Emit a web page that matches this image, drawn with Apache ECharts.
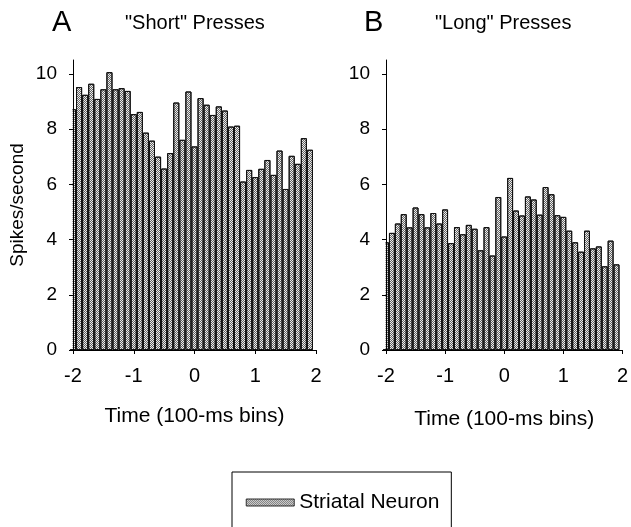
<!DOCTYPE html>
<html>
<head>
<meta charset="utf-8">
<script src="https://cdn.jsdelivr.net/npm/echarts@6/dist/echarts.min.js"></script>
<style>
  html, body { margin: 0; padding: 0; background: #fff; }
  #chart { width: 631px; height: 527px; }
</style>
</head>
<body>
<div id="chart"></div>
<script>
// bin centres in units of 100 ms
const binCenters = [
  -2.0, -1.9, -1.8, -1.7, -1.6, -1.5, -1.4, -1.3, -1.2, -1.1,
  -1.0, -0.9, -0.8, -0.7, -0.6, -0.5, -0.4, -0.3, -0.2, -0.1,
  0.0, 0.1, 0.2, 0.3, 0.4, 0.5, 0.6, 0.7, 0.8, 0.9,
  1.0, 1.1, 1.2, 1.3, 1.4, 1.5, 1.6, 1.7, 1.8, 1.9
];

// spikes/second, "Short" presses (panel A)
const shortPresses = [
  8.72, 9.52, 9.24, 9.64, 9.09, 9.44, 10.06, 9.44, 9.48, 9.38,
  8.54, 8.62, 7.87, 7.58, 7.00, 6.57, 7.13, 8.96, 7.61, 9.36,
  7.37, 9.12, 8.88, 8.51, 8.82, 8.67, 8.09, 8.12, 6.10, 6.52,
  6.26, 6.56, 6.88, 6.34, 7.22, 5.83, 7.03, 6.74, 7.67, 7.25
];

// spikes/second, "Long" presses (panel B)
const longPresses = [
  3.90, 4.24, 4.58, 4.92, 4.44, 5.16, 4.92, 4.44, 4.96, 4.58,
  5.09, 3.87, 4.45, 4.19, 4.53, 4.39, 3.61, 4.45, 3.42, 5.54,
  4.11, 6.23, 5.05, 4.87, 5.56, 5.45, 4.90, 5.90, 5.64, 4.88,
  4.82, 4.32, 3.90, 3.56, 4.32, 3.68, 3.75, 3.03, 3.96, 3.10
];

const yTickValues = [0, 2, 4, 6, 8, 10];
const seriesName = 'Striatal Neuron';

const FONT = '"Liberation Sans", Arial, Helvetica, sans-serif';

const barDecal = {
  symbol: 'rect',
  symbolSize: 1,
  color: 'rgba(40,40,40,0.7)',
  dashArrayX: [[1, 1], [0, 1, 1, 0]],
  dashArrayY: [1, 0]
};

const barItemStyle = {
  color: '#ececec',
  borderColor: '#111',
  borderWidth: 1,
  decal: barDecal
};

const xAxisBase = (gridIndex, nameGap) => ({
  type: 'value',
  gridIndex: gridIndex,
  z: 10,
  min: -2,
  max: 2,
  interval: 1,
  name: 'Time (100-ms bins)',
  nameLocation: 'middle',
  nameGap: nameGap,
  nameTextStyle: { fontFamily: FONT, fontSize: 21, color: '#000' },
  axisLine: { show: true, onZero: false, lineStyle: { color: '#000', width: 1 } },
  axisTick: { show: true, length: 4, lineStyle: { color: '#000' } },
  axisLabel: { fontFamily: FONT, fontSize: 20, color: '#000', margin: 16 },
  splitLine: { show: false }
});

const yAxisBase = (gridIndex) => ({
  type: 'value',
  gridIndex: gridIndex,
  z: 10,
  min: 0,
  max: 10.5,
  interval: 2,
  axisLine: { show: true, onZero: false, lineStyle: { color: '#000', width: 1 } },
  axisTick: { show: true, length: 4, customValues: yTickValues, lineStyle: { color: '#000' } },
  axisLabel: { fontFamily: FONT, fontSize: 19, color: '#000', margin: 16, customValues: yTickValues },
  splitLine: { show: false }
});

const chart = echarts.init(document.getElementById('chart'));

const titleStyle = (size) => ({ fontFamily: FONT, fontSize: size, fontWeight: 'normal', color: '#000' });

const option = {
  animation: false,
  backgroundColor: '#fff',
  title: [
    { text: 'A', left: 47, top: 3, textStyle: titleStyle(29) },
    { text: '"Short" Presses', left: 120, top: 8, textStyle: titleStyle(20) },
    { text: 'B', left: 359, top: 3, textStyle: titleStyle(29) },
    { text: '"Long" Presses', left: 430, top: 8, textStyle: titleStyle(20) }
  ],
  // white covers hide the half of the first bin that falls left of x = -2
  graphic: [
    { type: 'rect', left: 0, top: 40, z: 5, shape: { width: 72.5, height: 309 }, style: { fill: '#fff' } },
    { type: 'rect', left: 322, top: 40, z: 5, shape: { width: 63.5, height: 309 }, style: { fill: '#fff' } }
  ],
  legend: {
    data: [seriesName],
    left: 232,
    top: 472,
    icon: 'rect',
    itemWidth: 48,
    itemHeight: 7,
    itemGap: 10,
    padding: [20, 12, 60, 14],
    borderColor: '#000',
    borderWidth: 1,
    itemStyle: { borderWidth: 0.5 },
    textStyle: { fontFamily: FONT, fontSize: 21, color: '#000' }
  },
  grid: [
    { left: 73, top: 60, width: 243, height: 290 },
    { left: 386, top: 60, width: 239, height: 290 }
  ],
  xAxis: [xAxisBase(0, 56), xAxisBase(1, 59)],
  yAxis: [
    Object.assign(yAxisBase(0), {
      name: 'Spikes/second',
      nameLocation: 'middle',
      nameRotate: 90,
      nameGap: 46,
      nameTextStyle: { fontFamily: FONT, fontSize: 19, color: '#000' }
    }),
    yAxisBase(1)
  ],
  series: [
    {
      name: seriesName,
      type: 'bar',
      xAxisIndex: 0,
      yAxisIndex: 0,
      barWidth: '100%',
      itemStyle: barItemStyle,
      data: binCenters.map((x, i) => [x, shortPresses[i]])
    },
    {
      name: seriesName,
      type: 'bar',
      xAxisIndex: 1,
      yAxisIndex: 1,
      barWidth: '100%',
      itemStyle: barItemStyle,
      data: binCenters.map((x, i) => [x, longPresses[i]])
    }
  ]
};

chart.setOption(option);
</script>
</body>
</html>
